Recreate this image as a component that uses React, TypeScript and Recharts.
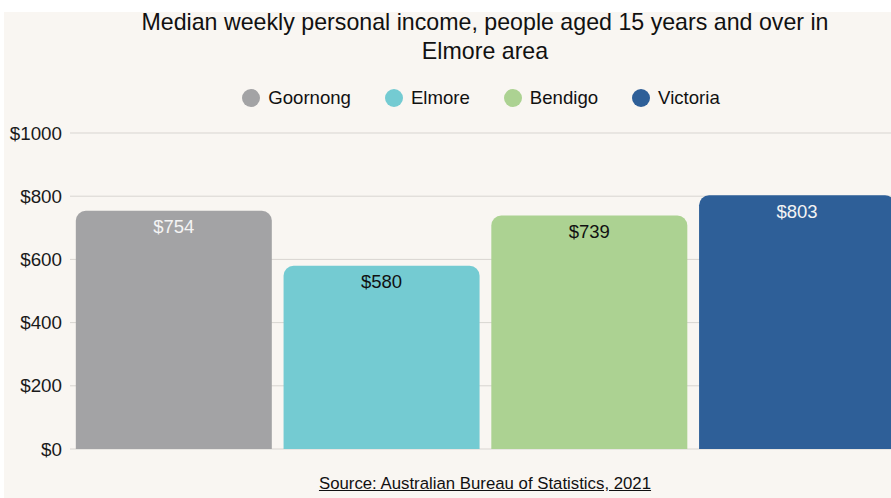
import { BarChart, Bar, XAxis, YAxis, CartesianGrid, Cell, LabelList } from 'recharts';

const areas = ['Goornong', 'Elmore', 'Bendigo', 'Victoria'];
const incomes = [754, 580, 739, 803];
const barColors = ['#a3a3a5', '#74cbd2', '#acd292', '#2e5f98'];
const labelColors = ['#f4f4f4', '#111111', '#111111', '#f4f4f4'];
const yTicks = [0, 200, 400, 600, 800, 1000];

const data = areas.map((area, i) => ({ area, income: incomes[i] }));

const font = '"Liberation Sans", Arial, sans-serif';

const ValueLabel = (props: any) => {
  const { x, y, width, index, value } = props;
  return (
    <text
      x={x + width / 2}
      y={y + 16}
      textAnchor="middle"
      dominantBaseline="central"
      fill={labelColors[index]}
      fontSize={18.5}
      fontFamily={font}
    >
      ${value}
    </text>
  );
};

export default function App() {
  return (
    <div
      style={{
        position: 'absolute',
        left: 4,
        top: 12,
        width: 887,
        height: 486,
        background: '#f9f6f2',
        fontFamily: font,
      }}
    >
      <div
        style={{
          position: 'absolute',
          top: -4,
          left: 0,
          width: 962,
          textAlign: 'center',
          fontSize: 23.2,
          lineHeight: '29px',
          color: '#111',
          whiteSpace: 'nowrap',
        }}
      >
        Median weekly personal income, people aged 15 years and over in
        <br />
        Elmore area
      </div>
      <div
        style={{
          position: 'absolute',
          top: 75,
          left: 0,
          width: 954,
          display: 'flex',
          justifyContent: 'center',
          gap: 34,
          fontSize: 18.6,
          color: '#111',
        }}
      >
        {areas.map((a, i) => (
          <div key={a} style={{ display: 'flex', alignItems: 'center', gap: 8 }}>
            <span
              style={{
                width: 18,
                height: 18,
                borderRadius: '50%',
                background: barColors[i],
                display: 'inline-block',
              }}
            />
            {a}
          </div>
        ))}
      </div>
      <div style={{ position: 'absolute', top: 0, left: 0, width: 887, height: 486, overflow: 'hidden' }}>
        <BarChart
          width={901}
          height={486}
          data={data}
          margin={{ top: 121, right: 4, bottom: 49, left: 6 }}
          barCategoryGap="2.8%"
        >
          <CartesianGrid vertical={false} stroke="#d8d5d1" />
          <XAxis dataKey="area" tick={false} height={0} axisLine={{ stroke: '#b9b7b4' }} tickLine={false} />
          <YAxis
            width={60}
            domain={[0, 1000]}
            ticks={yTicks}
            axisLine={false}
            tickLine={false}
            tickMargin={2}
            tickFormatter={(v) => `$${v}`}
            tick={{ fill: '#1a1a1a', fontSize: 18.8, fontFamily: font }}
          />
          <Bar dataKey="income" radius={[10, 10, 0, 0]} isAnimationActive={false}>
            {data.map((d, i) => (
              <Cell key={d.area} fill={barColors[i]} />
            ))}
            <LabelList dataKey="income" content={ValueLabel} />
          </Bar>
        </BarChart>
      </div>
      <div
        style={{
          position: 'absolute',
          top: 462,
          left: 0,
          width: 962,
          textAlign: 'center',
          fontSize: 16.8,
          color: '#111',
          textDecoration: 'underline',
        }}
      >
        Source: Australian Bureau of Statistics, 2021
      </div>
    </div>
  );
}
